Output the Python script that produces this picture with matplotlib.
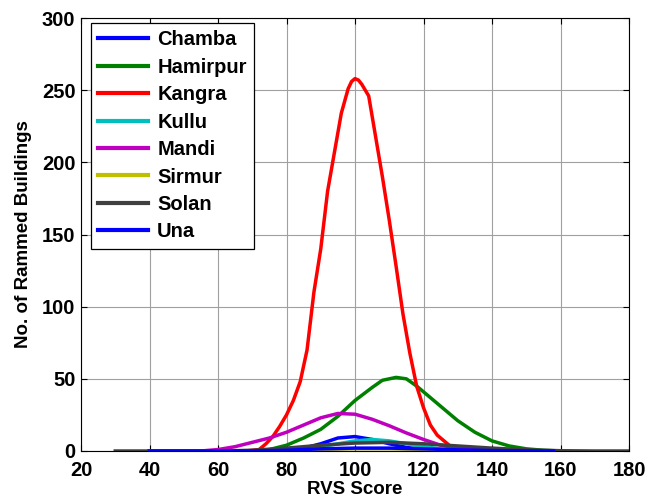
import matplotlib
matplotlib.use("Agg")
import matplotlib.pyplot as plt

plt.rcParams['font.family'] = ['Liberation Sans', 'DejaVu Sans']
plt.rcParams['font.weight'] = 'bold'

# Data (RVS score -> number of rammed buildings)
chamba_x = [40, 70, 80, 85, 90, 95, 100, 105, 110, 115, 120, 125, 130, 160]
chamba_y = [0, 0, 0.5, 2, 5, 9, 10, 8, 5, 2.5, 1, 0.3, 0, 0]

hamirpur_x = [40, 70, 75, 80, 85, 90, 95, 100, 105, 108, 112, 115, 118, 120, 125, 130, 135, 140, 145, 150, 155, 160]
hamirpur_y = [0, 0, 1, 4, 9, 15, 24, 35, 44, 49, 51, 50, 45, 41, 31, 21, 13, 7, 3.5, 1.5, 0.5, 0]

kangra_x = [40, 68, 70, 72, 74, 76, 78, 80, 82, 84, 86, 88, 90, 92, 94, 96, 98, 99, 100, 101, 102, 104, 106, 108, 110,
            112, 114, 116, 118, 120, 122, 124, 126, 128, 130, 132, 160]
kangra_y = [0, 0, 0.5, 1, 5, 10, 17, 25, 35, 48, 70, 110, 140, 180, 207, 234, 251, 256, 258, 257, 254, 246, 218, 190, 160,
            128, 95, 68, 45, 30, 18, 11, 7, 3, 1, 0, 0]

kullu_x = [40, 80, 85, 90, 95, 100, 105, 110, 115, 120, 125, 130, 135, 160]
kullu_y = [0, 0, 1, 3, 5, 7, 8, 7, 5, 3, 1.5, 0.5, 0, 0]

mandi_x = [40, 55, 60, 65, 70, 75, 80, 85, 90, 95, 100, 105, 110, 115, 120, 125, 130, 135, 140, 145, 160]
mandi_y = [0, 0, 1, 3, 6, 9, 13, 18, 23, 26, 25.5, 22, 17.5, 12.5, 8, 4, 2, 1, 0.5, 0, 0]

sirmur_x = [40, 80, 90, 100, 110, 120, 130, 160]
sirmur_y = [0, 0, 1, 1.5, 1.5, 1, 0, 0]

solan_x = [30, 60, 70, 80, 90, 100, 110, 120, 130, 140, 150, 160, 170, 180]
solan_y = [0, 0, 0.5, 2, 4, 5.5, 6, 5, 3.5, 2, 0.8, 0.2, 0, 0]

una_x = [40, 70, 80, 90, 100, 110, 120, 130, 140, 150, 158]
una_y = [0, 0, 0.5, 1.5, 2, 2, 1.5, 0.8, 0.3, 0.1, 0]

series = [
    ("Chamba", chamba_x, chamba_y, (0, 0, 1)),
    ("Hamirpur", hamirpur_x, hamirpur_y, (0, 0.5, 0)),
    ("Kangra", kangra_x, kangra_y, (1, 0, 0)),
    ("Kullu", kullu_x, kullu_y, (0, 0.75, 0.75)),
    ("Mandi", mandi_x, mandi_y, (0.75, 0, 0.75)),
    ("Sirmur", sirmur_x, sirmur_y, (0.75, 0.75, 0)),
    ("Solan", solan_x, solan_y, (0.25, 0.25, 0.25)),
    ("Una", una_x, una_y, (0, 0, 1)),
]

x_ticks = [20, 40, 60, 80, 100, 120, 140, 160, 180]
y_ticks = [0, 50, 100, 150, 200, 250, 300]

fig = plt.figure(figsize=(6.51, 5.03), dpi=100)
ax = fig.add_axes([81 / 651, 1 - 451 / 503, 548 / 651, 433 / 503])

for name, xs, ys, c in series:
    ax.plot(xs, ys, color=c, lw=2.5, label=name, solid_joinstyle='round')

ax.set_xlim(20, 180)
ax.set_ylim(0, 300)
ax.set_xticks(x_ticks)
ax.set_yticks(y_ticks)
ax.grid(True, color='#a0a0a0', lw=0.8)
ax.set_axisbelow(True)
ax.tick_params(direction='in', top=True, right=True, labelsize=14.5, length=4, width=0.8)
ax.tick_params(axis='x', pad=7)
ax.tick_params(axis='y', pad=4)
for lab in ax.get_xticklabels() + ax.get_yticklabels():
    lab.set_fontweight('bold')
for s in ax.spines.values():
    s.set_linewidth(0.8)

ax.set_xlabel("RVS Score", fontsize=13.5, fontweight='bold', labelpad=1)
ax.set_ylabel("No. of Rammed Buildings", fontsize=13.5, fontweight='bold', labelpad=7)

leg = ax.legend(loc='upper left', bbox_to_anchor=(0.0177, 0.988), fontsize=14.5,
                frameon=True, fancybox=False, edgecolor='black', framealpha=1,
                handlelength=2.5, handletextpad=0.45, labelspacing=0.42, borderpad=0.35,
                borderaxespad=0)
leg.get_frame().set_linewidth(0.9)
for t in leg.get_texts():
    t.set_fontweight('bold')
for l in leg.get_lines():
    l.set_linewidth(3)

fig.savefig("out.png", dpi=100)
